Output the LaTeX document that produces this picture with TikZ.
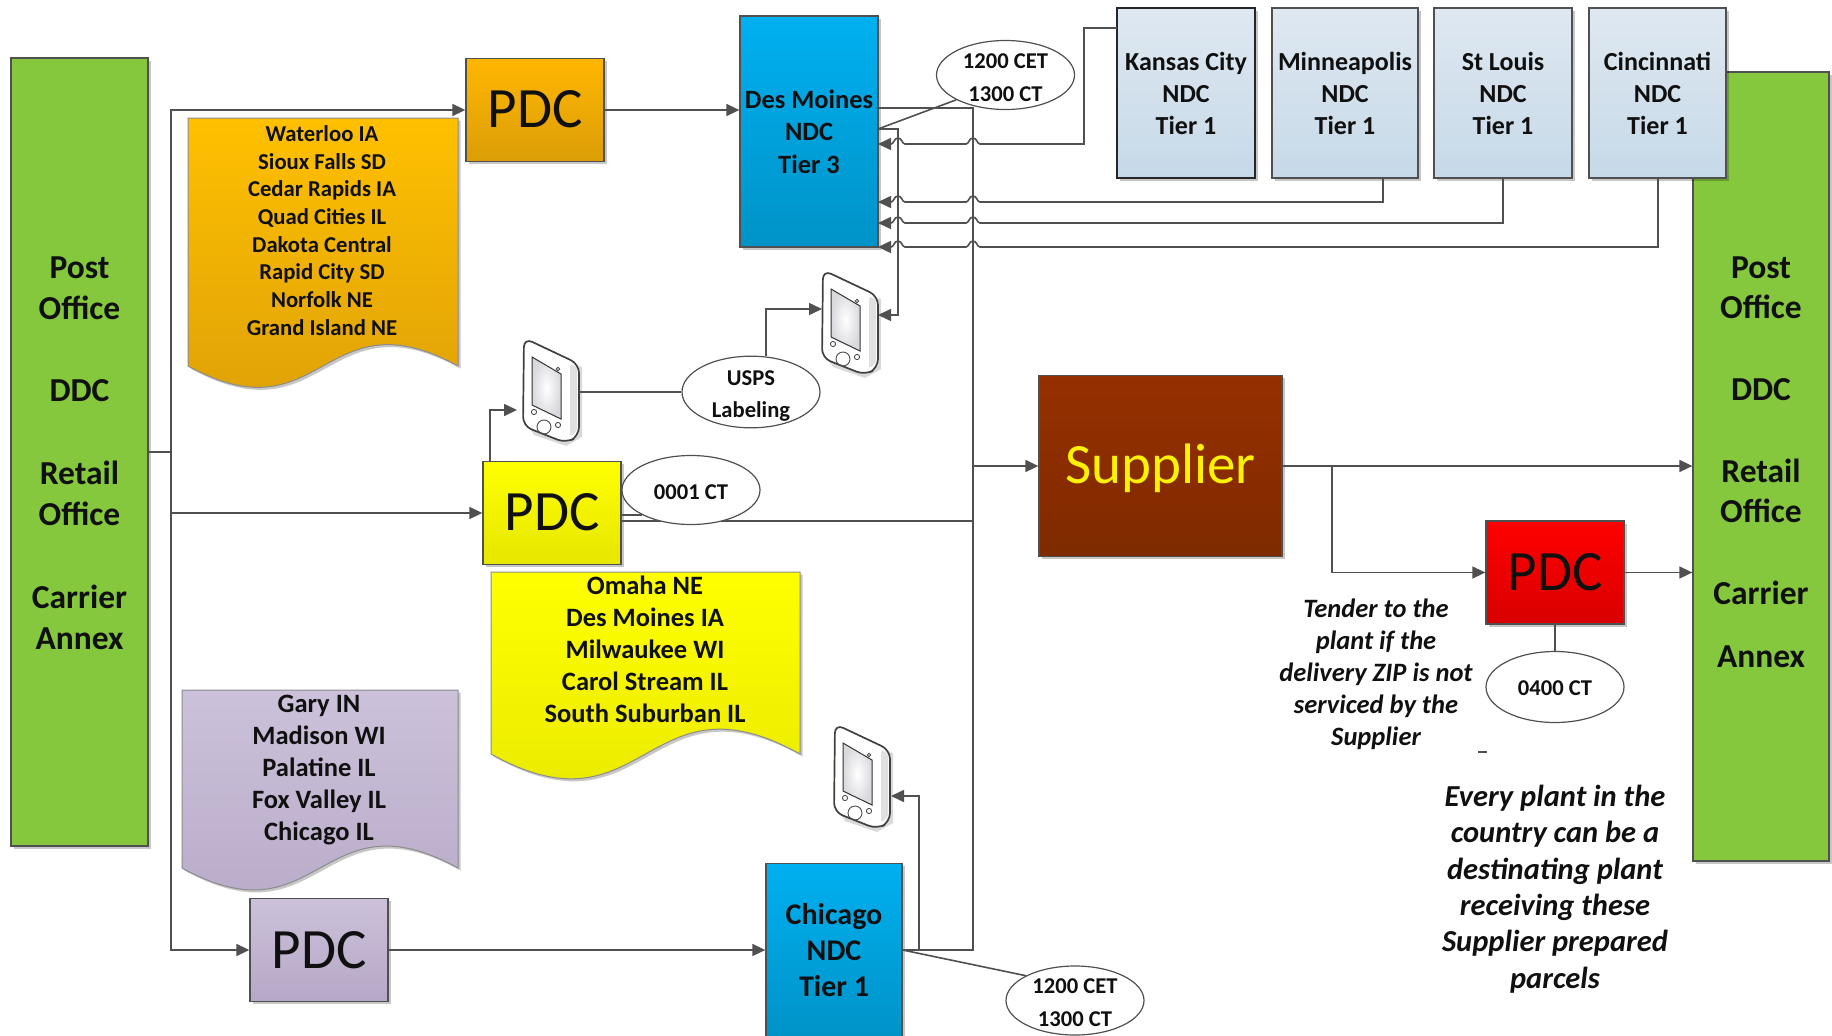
\documentclass[tikz,border=0pt]{standalone}
\usepackage{fontspec}
\setmainfont{Carlito}
\usetikzlibrary{arrows.meta,shapes.geometric,shadows}
\definecolor{linec}{HTML}{505050}
\definecolor{txt}{HTML}{101010}
\definecolor{grn}{HTML}{85C83E}
\definecolor{blu}{HTML}{00B0F0}
\definecolor{blud}{HTML}{0093C8}
\definecolor{tiert}{HTML}{DFE8F1}
\definecolor{tierb}{HTML}{C6D9E8}
\definecolor{orgt}{HTML}{FFC000}
\definecolor{orgb}{HTML}{DB9E08}
\definecolor{yelb}{HTML}{E6E600}
\definecolor{redb}{HTML}{D90000}
\definecolor{supt}{HTML}{953000}
\definecolor{supb}{HTML}{7F2A00}
\definecolor{purt}{HTML}{CCC1DA}
\definecolor{purb}{HTML}{B5A8C7}
\newcommand\fsz[2]{\fontsize{#1}{#2}\selectfont}
\newcommand\low[2][2.5pt]{\raisebox{-#1}[\height][\depth]{#2}}
\newcommand\hop[2]{-- (#1+7,#2) .. controls (#1+4,#2) and (#1+4,#2-6) .. (#1,#2-6) .. controls (#1-4,#2-6) and (#1-4,#2) .. (#1-7,#2)}
\newcommand\docshape[7]{\draw[docbox,top color=#6,bottom color=#7] (#1,#2) -- (#3,#2) -- (#3,#4) .. controls ({(#1+#3)/2},#4-#5) and ({(#1+#3)/2},#4+#5) .. (#1,#4) -- cycle;}
\tikzset{
  x=1pt,y=-1pt,
  softshadow/.style={drop shadow={shadow xshift=2.5pt,shadow yshift=-2.5pt,fill=black,opacity=0.22}},
  box/.style={rectangle,draw=linec,line width=1.3pt,inner sep=0pt,softshadow,align=center,text=txt},
  pdcbox/.style={box,minimum width=138pt,minimum height=103pt,font=\fsz{57}{60}\selectfont},
  postbox/.style={box,top color=grn,bottom color=grn,minimum width=137pt,font=\bfseries\fsz{33.5}{41}\selectfont},
  ndcbox/.style={box,top color=blu,bottom color=blud,font=\bfseries\fsz{26.4}{32.5}\selectfont},
  tierbox/.style={box,draw=black!85,top color=tiert,bottom color=tierb,minimum width=138pt,minimum height=170pt,font=\bfseries\fsz{26}{32}\selectfont},
  oval/.style={ellipse,draw=linec,line width=1.2pt,fill=white,minimum width=138pt,minimum height=69pt,inner sep=0pt,align=center,text=txt,font=\bfseries\fsz{22.6}{33}\selectfont},
  conn/.style={draw=linec,line width=1.6pt},
  arr/.style={conn,-{Triangle[length=13pt,width=12pt]}},
  docbox/.style={draw=black!45,line width=1pt,softshadow},
  doctext/.style={align=center,text=txt,inner sep=0pt,font=\bfseries\fsz{26.5}{32}\selectfont},
  note/.style={align=center,text=txt,inner sep=0pt},
  pics/phone/.style={code={
    \fill[black,opacity=0.15] (3,12) -- (3,84) -- (10,96) -- (42,107) -- (58,98) -- (58,28) -- cycle;
    \draw[draw=black!75,line width=1.7pt,fill=white,rounded corners=9pt]
      (0,-1) -- (55,25) -- (55,97) -- (42,104) -- (-1,87) -- cycle;
    \fill[black!12,rounded corners=3pt] (46,25) -- (53,28) -- (53,92) -- (46,98) -- cycle;
    \draw[draw=black!80,line width=1pt,inner color=white,outer color=blue!12!black!15]
      (8,18) -- (37,35) -- (37,80) -- (8,66) -- cycle;
    \draw[black!70,line width=.9pt] (20,88) circle (7);
    \draw[black!70,line width=.9pt] (10,73) circle (2.6);
    \draw[black!70,line width=.9pt] (34,86) circle (2.6);
    \draw[black!70,line width=.9pt] (34,30) circle (1.8);
  }}
}
\begin{document}
\begin{tikzpicture}
\useasboundingbox (0,0) rectangle (1832,1036);
% green bars
\node[postbox,minimum height=788pt] (postL) at (79.5,452) {};
\node[note,font=\bfseries\fsz{33.5}{41}\selectfont] (postLtext) at (79.5,453.5) {Post\\Office\\[41pt]DDC\\[41.5pt]Retail\\Office\\[42pt]Carrier\\Annex};
\node[postbox,minimum width=136pt,minimum height=789pt] (postR) at (1761,466.5) {};
\node[note,font=\bfseries\fsz{33.5}{40}\selectfont] (postRtext) at (1761,462.5) {Post\\Office\\[42pt]DDC\\[42pt]Retail\\Office\\[42pt]Carrier\\[23pt]Annex};
% documents
\docshape{188}{118}{458}{366}{74}{orgt}{orgb}
\node[doctext,font=\bfseries\fsz{22.7}{27.7}\selectfont] (docO) at (322,230.5) {Waterloo IA\\Sioux Falls SD\\Cedar Rapids IA\\Quad Cities IL\\Dakota Central\\Rapid City SD\\Norfolk NE\\Grand Island NE};
\docshape{491}{572}{800}{754}{86}{yellow}{yelb}
\node[doctext] (docY) at (645,649.5) {Omaha NE\\Des Moines IA\\Milwaukee WI\\Carol Stream IL\\South Suburban IL};
\docshape{182}{690}{458}{868}{76}{purt}{purb}
\node[doctext] (docP) at (319,770) {Gary IN\\Madison WI\\Palatine IL\\Fox Valley IL\\Chicago IL};
% boxes
\node[pdcbox,top color=orgt!95!red,bottom color=orgb] (pdcO) at (535,110) {\low[-1pt]{PDC}};
\node[pdcbox,top color=yellow,bottom color=yelb] (pdcY) at (552,513) {\low[-1pt]{PDC}};
\node[pdcbox,top color=purt,bottom color=purb] (pdcP) at (319,950) {PDC};
\node[pdcbox,top color=red,bottom color=redb] (pdcR) at (1555,572.5) {PDC};
\node[ndcbox,minimum width=138pt,minimum height=231pt] (dm) at (809,131.5) {Des Moines\\NDC\\Tier 3};
\node[ndcbox,minimum width=136pt,minimum height=173pt,font=\bfseries\fsz{30}{36}\selectfont] (chi) at (834,950) {Chicago\\NDC\\Tier 1};
\node[tierbox] (kc) at (1186,93) {Kansas City\\NDC\\Tier 1};
\node[tierbox,minimum width=146pt,draw=linec] (mn) at (1345,93) {Minneapolis\\NDC\\Tier 1};
\node[tierbox,draw=linec] (sl) at (1503,93) {St Louis\\NDC\\Tier 1};
\node[tierbox,minimum width=137pt,draw=linec] (cn) at (1657.5,93) {Cincinnati\\NDC\\Tier 1};
\node[box,top color=supt,bottom color=supb,minimum width=243pt,minimum height=181pt,text=yellow,font=\fsz{57}{60}\selectfont] (sup) at (1160.5,466) {\low[2pt]{Supplier}};
% phones
\pic at (823,271) {phone};
\pic at (524,339) {phone};
\pic at (835,725) {phone};
\coordinate (phA) at (878,315);
\coordinate (phAin) at (822,309);
\coordinate (phB) at (579,392);
\coordinate (phBin) at (517,410);
\coordinate (phC) at (891,796);
% named junctions
\coordinate (sp) at (171,452);
\coordinate (dmOut) at (878,108);
\coordinate (trT) at (973,108);
\coordinate (trB) at (973,950);
\coordinate (dmTap) at (878,129);
\coordinate (dmBus) at (898,129);
\coordinate (dmK) at (878,144);
\coordinate (dmM) at (878,202);
\coordinate (dmS) at (878,223);
\coordinate (dmC) at (878,247);
\coordinate (kcT) at (1117,28);
\coordinate (kcC) at (1084,28);
\coordinate (kcD) at (1084,144);
\coordinate (mnB) at (1383,178);
\coordinate (mnD) at (1383,202);
\coordinate (slD) at (1503,223);
\coordinate (cnD) at (1658,247);
\coordinate (pdcYout) at (621,521);
\coordinate (trY) at (973,521);
\coordinate (trS) at (973,466);
\coordinate (sb) at (1332,466);
\coordinate (chiT) at (919,950);
\coordinate (pdcYtop) at (490,461);
\coordinate (dashA) at (1478,752);
\coordinate (dashB) at (1487,752);
% connectors
\draw[conn] (postL.east) -- (sp);
\draw[arr] (sp) |- (pdcO.west);
\draw[arr] (sp |- pdcY.west) -- (pdcY.west);
\draw[arr] (sp) |- (pdcP.west);
\draw[arr] (pdcO.east) -- (pdcO.east -| dm.west);
\draw[arr] (pdcP.east) -- (pdcP.east -| chi.west);
\draw[conn] (dmOut) -- (trT) -- (trB) -- (chi.east |- trB);
\draw[arr] (trS) -- (sup.west);
\draw[conn] (pdcYout) -- (trY);
\draw[arr] (kcT) -- (kcC) -- (kcD) \hop{973}{144} \hop{898}{144} -- (dmK);
\draw[arr] (mnB) -- (mnD) \hop{973}{202} \hop{898}{202} -- (dmM);
\draw[arr] (sl.south) -- (slD) \hop{973}{223} \hop{898}{223} -- (dmS);
\draw[arr] (cnD |- cn.south) -- (cnD) \hop{973}{247} \hop{898}{247} -- (dmC);
\draw[arr] (dmTap) -- (dmBus) |- (phA);
\draw[arr] (pdcYtop) |- (phBin);
\draw[arr] (chiT) |- (phC);
\draw[arr] (sup.east) -- (sup.east -| postR.west);
\draw[arr] (sb) |- (pdcR.west);
\draw[arr] (pdcR.east) -- (pdcR.east -| postR.west);
\draw[conn] (dashA) -- (dashB);
% ovals
\node[oval] (ovDM) at (1005.5,75) {\low{1200 CET}\\\low{1300 CT}};
\node[oval] (ovChi) at (1075,1000.5) {\low{1200 CET}\\\low{1300 CT}};
\node[oval,minimum height=70pt,font=\bfseries\fsz{22.6}{32}\selectfont] (ovU) at (751,392) {\low[4pt]{USPS}\\\low[4pt]{Labeling}};
\node[oval] (ovY) at (691,490) {\low[2pt]{0001 CT}};
\node[oval,minimum height=71pt] (ovR) at (1555,687) {\low[1pt]{0400 CT}};
\draw[conn] (dmTap) -- (ovDM.south west);
\draw[conn] (chi.east |- chiT) -- (ovChi.north west);
\draw[conn] (phB) -- (ovU.west);
\draw[arr] (ovU.north -| 766,392) |- (phAin);
\draw[conn] (pdcY.east |- ovY.south west) -- (ovY.south west);
\draw[conn] (pdcR.south) -- (ovR.north);
% notes
\node[note,font=\bfseries\itshape\fsz{26.5}{32}\selectfont] (tender) at (1376,674) {Tender to the\\plant if the\\delivery ZIP is not\\serviced by the\\Supplier};
\node[note,font=\bfseries\itshape\fsz{30.5}{36.4}\selectfont] (every) at (1555,889) {Every plant in the\\country can be a\\destinating plant\\receiving these\\Supplier prepared\\parcels};
\end{tikzpicture}
\end{document}
